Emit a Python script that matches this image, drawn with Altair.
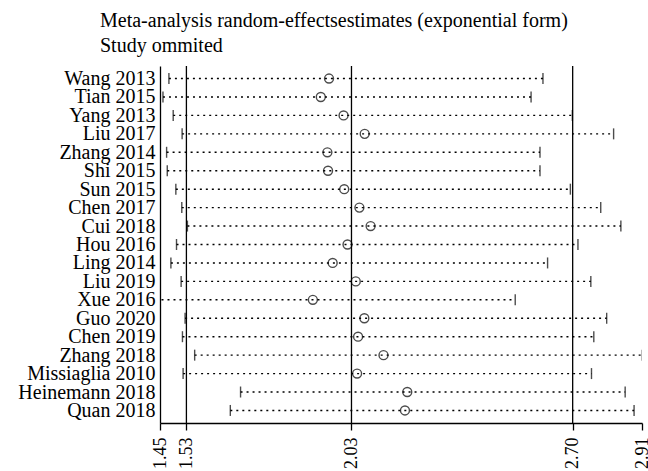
import altair as alt
import pandas as pd

studies = ["Wang 2013", "Tian 2015", "Yang 2013", "Liu 2017", "Zhang 2014", "Shi 2015",
           "Sun 2015", "Chen 2017", "Cui 2018", "Hou 2016", "Ling 2014", "Liu 2019",
           "Xue 2016", "Guo 2020", "Chen 2019", "Zhang 2018", "Missiaglia 2010",
           "Heinemann 2018", "Quan 2018"]
estimate = [1.962, 1.937, 2.006, 2.070, 1.957, 1.959, 2.008, 2.054, 2.088, 2.018,
            1.973, 2.043, 1.913, 2.069, 2.050, 2.127, 2.047, 2.199, 2.192]
lower = [1.477, 1.459, 1.490, 1.517, 1.470, 1.472, 1.498, 1.516, 1.533, 1.500,
         1.483, 1.514, 1.400, 1.526, 1.518, 1.555, 1.520, 1.694, 1.663]
upper = [2.610, 2.574, 2.699, 2.824, 2.601, 2.601, 2.693, 2.785, 2.846, 2.716,
         2.624, 2.755, 2.526, 2.803, 2.764, 2.911, 2.757, 2.859, 2.886]
ref_lines = [1.53, 2.03, 2.70]
tick_values = [1.45, 1.53, 2.03, 2.70, 2.91]

df = pd.DataFrame({"study": studies, "est": estimate, "lo": lower, "hi": upper})
ref = pd.DataFrame({"v": ref_lines})

FONT = "Liberation Serif"
xscale = alt.Scale(domain=[1.45, 2.91], nice=False, zero=False)
yscale = alt.Scale(domain=studies, type="point", padding=0.68)

xax = alt.Axis(values=tick_values, format=".2f", labelAngle=270, title=None, grid=False,
               domainColor="black", tickColor="black", tickSize=7, labelPadding=7,
               labelFont=FONT, labelFontSize=18, labelColor="black", domainWidth=1.3,
               tickWidth=1.3)
yax = alt.Axis(title=None, ticks=False, grid=False, domainColor="black", domainWidth=1.3,
               labelFont=FONT, labelFontSize=20, labelColor="black", labelPadding=5)

base = alt.Chart(df)

rules = alt.Chart(ref).mark_rule(color="black", strokeWidth=1.3).encode(
    x=alt.X("v:Q", scale=xscale, axis=xax)
)

ci = base.mark_rule(color="black", strokeWidth=1.4, strokeDash=[2, 4], clip=True).encode(
    x=alt.X("lo:Q", scale=xscale, axis=xax),
    x2="hi:Q",
    y=alt.Y("study:N", scale=yscale, axis=yax, sort=studies),
)

lo_tick = base.mark_tick(color="black", orient="vertical", size=11, thickness=1.4, clip=True).encode(
    x=alt.X("lo:Q", scale=xscale),
    y=alt.Y("study:N", scale=yscale, sort=studies),
)
hi_tick = base.mark_tick(color="black", orient="vertical", size=11, thickness=1.4, clip=True).encode(
    x=alt.X("hi:Q", scale=xscale),
    y=alt.Y("study:N", scale=yscale, sort=studies),
)
pts = base.mark_point(shape="circle", filled=False, color="black", size=80, strokeWidth=1.4).encode(
    x=alt.X("est:Q", scale=xscale),
    y=alt.Y("study:N", scale=yscale, sort=studies),
)

chart = alt.layer(rules, ci, lo_tick, hi_tick, pts).properties(
    width=482, height=357,
    title=alt.TitleParams(
        ["Meta-analysis random-effectsestimates (exponential form)", "Study ommited"],
        anchor="start", frame="group", font=FONT, fontSize=20, fontWeight="normal",
        color="black", lineHeight=25, dx=-60, offset=9,
    ),
    autosize=alt.AutoSizeParams(type="none"),
    padding={"left": 160, "top": 66, "right": 6, "bottom": 48},
).configure_view(stroke=None)

chart.save("out.html", embed_options={"renderer": "svg", "actions": False})
